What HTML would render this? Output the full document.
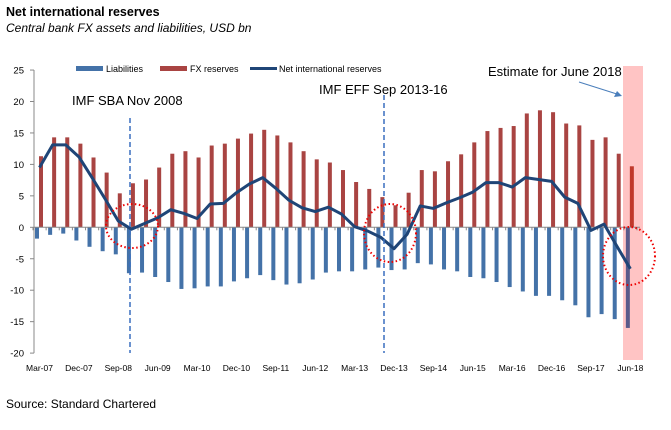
<!DOCTYPE html>
<html><head><meta charset="utf-8"><style>
body{margin:0;background:#fff;width:671px;height:425px;overflow:hidden;font-family:"Liberation Sans",sans-serif}
</style></head><body>
<svg width="671" height="425" id="c" font-family="Liberation Sans, sans-serif">
<text x="6" y="16" font-size="12.5" font-weight="bold">Net international reserves</text>
<text x="6" y="32" font-size="12" font-style="italic">Central bank FX assets and liabilities, USD bn</text>
<rect x="623" y="66" width="20" height="294" fill="#ffc4c4"/>
<g id="plot"></g>
<g font-size="9">
<rect x="76" y="66" width="27" height="5" fill="#4472a8"/>
<text x="106" y="72">Liabilities</text>
<rect x="160" y="66" width="27" height="5" fill="#a94442"/>
<text x="190" y="72">FX reserves</text>
<line x1="250" y1="68.5" x2="277" y2="68.5" stroke="#1f4577" stroke-width="3"/>
<text x="279" y="72">Net international reserves</text>
</g>
<text x="72" y="105" font-size="13">IMF SBA Nov 2008</text>
<text x="319" y="94" font-size="13">IMF EFF Sep 2013-16</text>
<text x="488" y="76" font-size="13">Estimate for June 2018</text>
<line x1="579" y1="82" x2="620" y2="95" stroke="#4a7ebb" stroke-width="1"/>
<polygon points="622,96 614,97 617,91" fill="#4a7ebb"/>
<text x="6" y="408" font-size="12">Source: Standard Chartered</text>
</svg>
<script>
const categories=["Mar-07","Jun-07","Sep-07","Dec-07","Mar-08","Jun-08","Sep-08","Dec-08","Mar-09","Jun-09","Sep-09","Dec-09","Mar-10","Jun-10","Sep-10","Dec-10","Mar-11","Jun-11","Sep-11","Dec-11","Mar-12","Jun-12","Sep-12","Dec-12","Mar-13","Jun-13","Sep-13","Dec-13","Mar-14","Jun-14","Sep-14","Dec-14","Mar-15","Jun-15","Sep-15","Dec-15","Mar-16","Jun-16","Sep-16","Dec-16","Mar-17","Jun-17","Sep-17","Dec-17","Mar-18","Jun-18"];
const fxReserves=[11.3,14.3,14.3,13.3,11.1,8.7,5.4,7.0,7.6,9.5,11.7,12.1,11.1,13.0,13.3,14.1,14.9,15.5,14.6,13.5,12.1,10.8,10.3,9.1,7.2,6.1,4.8,3.5,5.5,9.1,8.9,10.5,11.6,13.5,15.3,15.8,16.1,18.1,18.6,18.3,16.5,16.2,13.9,14.3,11.7,9.7];
const liabilities=[-1.8,-1.2,-1.0,-2.1,-3.1,-3.8,-4.3,-7.3,-7.2,-7.9,-8.7,-9.8,-9.7,-9.4,-9.4,-8.6,-8.1,-7.6,-8.4,-9.1,-8.9,-8.3,-7.2,-7.0,-7.0,-6.7,-6.4,-6.8,-6.7,-5.7,-5.9,-6.7,-7.0,-7.9,-8.1,-8.7,-9.5,-10.2,-10.9,-10.9,-11.6,-12.4,-14.3,-13.8,-14.6,-16.0];
const netReserves=[9.5,13.1,13.1,11.2,7.9,4.5,1.0,-0.3,0.6,1.5,2.8,2.2,1.4,3.7,3.8,5.5,6.9,7.9,6.2,4.3,3.1,2.5,3.2,2.1,0.1,-0.6,-1.6,-3.4,-1.1,3.4,3.0,3.9,4.7,5.6,7.1,7.1,6.4,7.9,7.6,7.3,4.8,3.8,-0.5,0.5,-3.1,-6.6];
const yTicks=[25,20,15,10,5,0,-5,-10,-15,-20];
const NS="http://www.w3.org/2000/svg";
const g=document.getElementById('plot');
function y(v){return 227.3-v*6.29;}
function x(i){return 39.5+i*13.13;}
function mk(t,a){const e=document.createElementNS(NS,t);for(const k in a)e.setAttribute(k,a[k]);g.appendChild(e);return e;}
// axes
let ax=mk('line',{x1:34,y1:y(25),x2:34,y2:y(-20),stroke:'#888'});


yTicks.forEach(t=>{
 let tl=mk('line',{x1:30,x2:34,y1:y(t),y2:y(t),stroke:'#888'});
 
 
 let tx=mk('text',{x:24,y:y(t)+3.5,'font-size':9.5,'text-anchor':'end'});
 tx.textContent=t;
 
 
});
categories.forEach((c,i)=>{
 let fb=mk('rect',{x:x(i)-0.5,width:4,y:Math.min(y(fxReserves[i]),y(0)),height:Math.abs(y(fxReserves[i])-y(0)),fill:i==45?'#c0392b':'#a94442'});
 
 
 let lb=mk('rect',{x:x(i)-4.5,width:4,y:y(0),height:Math.abs(y(liabilities[i])-y(0)),fill:i==45?'#5a5a8a':'#4472a8'});
 
 
 if(i%3==0){
  let xt=mk('text',{x:x(i),y:371,'font-size':8.5,'text-anchor':'middle'});
  xt.textContent=c;
  
  
 }
});
let za=mk('line',{x1:34,x2:640,y1:y(0),y2:y(0),stroke:'#888'});


for(let i=0;i<=categories.length;i++){
 let t=mk('line',{x1:x(i)-6.5,x2:x(i)-6.5,y1:y(0),y2:y(0)+3,stroke:'#888'});
 
 
}
let pl=mk('polyline',{points:netReserves.map((v,i)=>x(i)+','+y(v)).join(' '),fill:'none',stroke:'#1f4577','stroke-width':3,'stroke-linejoin':'round'});


[[130,118],[384,95]].forEach(d=>{
 let dl=mk('line',{x1:d[0],x2:d[0],y1:d[1],y2:353,stroke:'#3a6fbf','stroke-width':1.5,'stroke-dasharray':'5,3'});
 
 
});
[[132,226,26,22],[390,233,26,29],[629,256,26,29]].forEach(c=>{
 let el=mk('ellipse',{cx:c[0],cy:c[1],rx:c[2],ry:c[3],fill:'none',stroke:'#e00','stroke-width':2,'stroke-dasharray':'1.5,2.5'});
 
 
});
</script>
</body></html>
